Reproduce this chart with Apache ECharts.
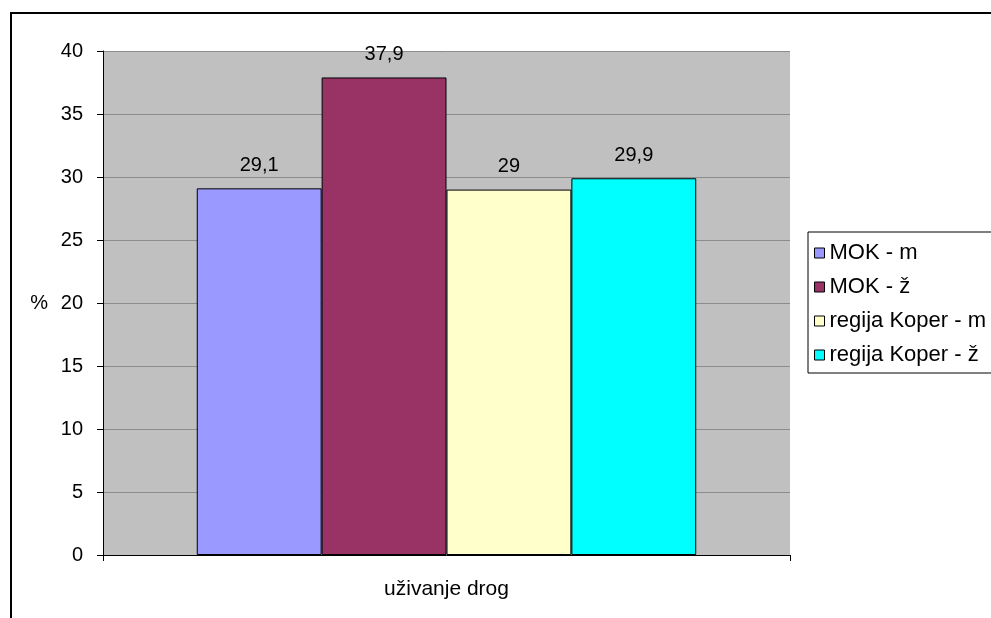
<!DOCTYPE html>
<html>
<head>
<meta charset="utf-8">
<script src="https://cdn.jsdelivr.net/npm/echarts@6/dist/echarts.min.js"></script>
<style>html,body{margin:0;padding:0;background:#fff}#c{width:991px;height:618px}</style>
</head>
<body>
<div id="c"></div>
<script>
var categories = ['uživanje drog'];
var seriesNames = ['MOK - m', 'MOK - ž', 'regija Koper - m', 'regija Koper - ž'];
var mokM = [29.1];
var mokZ = [37.9];
var koperM = [29];
var koperZ = [29.9];
var colors = ['#9999FF', '#993366', '#FFFFCC', '#00FFFF'];
var yTicks = [0, 5, 10, 15, 20, 25, 30, 35, 40];

var font = 'Liberation Sans, Arial, sans-serif';
var chart = echarts.init(document.getElementById('c'), null, {renderer: 'canvas'});
var dataSets = [mokM, mokZ, koperM, koperZ];
var series = dataSets.map(function (d, i) {
  return {
    name: seriesNames[i],
    type: 'bar',
    data: d,
    barGap: '0%',
    barCategoryGap: '27.3%',
    itemStyle: {color: colors[i], borderColor: '#000', borderWidth: 1},
    label: {
      show: true, position: 'top', distance: 13,
      color: '#000', fontFamily: font, fontSize: 20,
      formatter: function (p) { return String(p.value).replace('.', ','); }
    }
  };
});
chart.setOption({
  animation: false,
  color: colors,
  textStyle: {fontFamily: font},
  grid: {left: 103, right: 201, top: 51, bottom: 63, show: true, backgroundColor: '#C0C0C0', borderWidth: 0},
  xAxis: {
    type: 'category', data: categories,
    axisLine: {lineStyle: {color: '#000', width: 1}},
    axisTick: {show: true, length: 6, lineStyle: {color: '#000'}},
    axisLabel: {color: '#000', fontSize: 21, fontFamily: font, margin: 24}
  },
  yAxis: {
    type: 'value', min: yTicks[0], max: yTicks[yTicks.length - 1], interval: 5,
    name: '%', nameLocation: 'middle', nameRotate: 0, nameGap: 55,
    nameTextStyle: {color: '#000', fontSize: 20, fontFamily: font},
    axisLine: {show: true, lineStyle: {color: '#000', width: 1}},
    axisTick: {show: true, length: 6, lineStyle: {color: '#000'}},
    axisLabel: {color: '#000', fontSize: 20, fontFamily: font, margin: 20},
    splitLine: {show: true, lineStyle: {color: '#8C8C8C', width: 1}}
  },
  legend: {
    orient: 'vertical', left: 808, top: 232,
    padding: [10, 60, 7, 6],
    borderColor: '#000', borderWidth: 1,
    backgroundColor: '#fff',
    itemWidth: 10, itemHeight: 10, itemGap: 12,
    icon: 'rect',
    itemStyle: {borderColor: '#000', borderWidth: 1},
    textStyle: {color: '#000', fontSize: 22, fontFamily: font},
    data: seriesNames
  },
  graphic: [{
    type: 'rect', silent: true,
    shape: {x: 11, y: 13, width: 1000, height: 700},
    style: {fill: null, stroke: '#000', lineWidth: 2}
  }],
  series: series
});
</script>
</body>
</html>
